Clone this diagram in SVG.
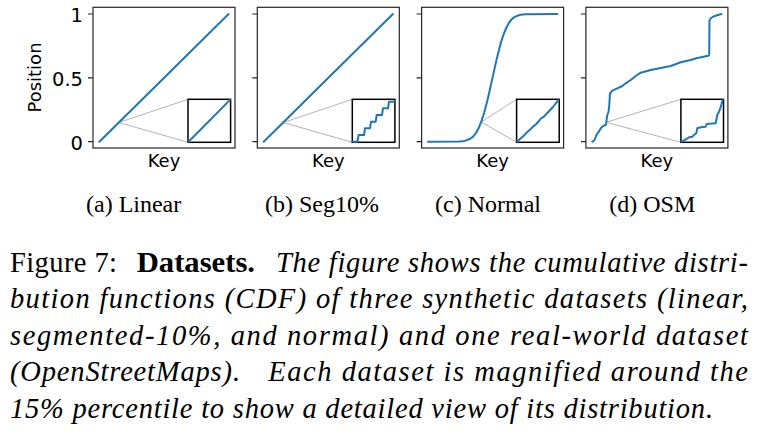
<svg xmlns="http://www.w3.org/2000/svg" width="760" height="431" viewBox="0 0 760 431">
<style>
.ax{fill:none;stroke:#262626;stroke-width:1.2}
.tick{stroke:#262626;stroke-width:1.2}
.curve{fill:none;stroke:#1f77b4;stroke-width:2;stroke-linejoin:round;stroke-linecap:round}
.zl{stroke:#b4b4b4;stroke-width:1;fill:none}
.inset{fill:#fff;stroke:#000;stroke-width:1.5}
.tl{font-family:"DejaVu Sans",sans-serif;font-size:19.5px;fill:#000;text-anchor:end}
.lab{font-family:"DejaVu Sans",sans-serif;font-size:18px;fill:#000;text-anchor:middle}
.sub{font-family:"Liberation Serif",serif;font-size:24px;fill:#000}
.cap{font-family:"Liberation Serif",serif;font-size:28.5px;fill:#000}
.it{font-style:italic}
.bd{font-weight:bold}
</style>
<rect width="760" height="431" fill="#fff"/>

<g id="panel-a">
  <rect class="ax" x="93" y="7.3" width="142" height="140.7"/>
  <path class="tick" d="M88,14H93M88,77.85H93M88,141.7H93"/>
  <text class="tl" x="83" y="22">1</text>
  <text class="tl" x="83" y="85.85">0.5</text>
  <text class="tl" x="83" y="149.7">0</text>
  <text class="lab" transform="translate(41,77.5) rotate(-90)">Position</text>
  <text class="lab" x="164" y="166.5">Key</text>
  <path class="zl" d="M188,99.3L118.8,122.5L188,142.3"/>
  <path class="curve" d="M99.4,141.7L228.6,14"/>
  <rect class="inset" x="188" y="99.3" width="42.6" height="43"/>
  <path class="curve" d="M188.6,141.7L230,99.9"/>
  <text class="sub" x="86" y="212.3">(a) Linear</text>
</g>

<g id="panel-b">
  <rect class="ax" x="257.3" y="7.3" width="142" height="140.7"/>
  <path class="tick" d="M252.3,14H257.3M252.3,77.85H257.3M252.3,141.7H257.3"/>
  <text class="lab" x="328.3" y="166.5">Key</text>
  <path class="zl" d="M352.3,99.3L283.3,122.5L352.3,142.3"/>
  <path class="curve" d="M263.7,141.7L392.9,14"/>
  <rect class="inset" x="352.3" y="99.3" width="42.6" height="43"/>
  <path class="curve" d="M353,141.7L357.3,141.7L358.7,135L364,135L365,128.3L370,128.3L371,121.7L375.7,121.7L376.7,115L382,115L383,108.3L388,108.3L389,101.7L394.2,101.7"/>
  <text class="sub" x="265" y="212.3">(b) Seg10%</text>
</g>

<g id="panel-c">
  <rect class="ax" x="421.6" y="7.3" width="142" height="140.7"/>
  <path class="tick" d="M416.6,14H421.6M416.6,77.85H421.6M416.6,141.7H421.6"/>
  <text class="lab" x="492.6" y="166.5">Key</text>
  <path class="zl" d="M516.6,99.3L481.2,122L516.6,142.3"/>
  <path class="curve" d="M428,141.7L459.2,141.5L464.75,140.9L470.3,138.8L473.1,136.6L475.85,133.2L478.6,128.2L481.4,121.4L484.2,112.8L486.95,102.3L489.7,90.45L492.5,77.85L495.3,65.25L498.05,53.4L500.8,42.9L503.6,34.3L506.4,27.5L509.15,22.5L511.9,19.1L514.7,16.9L520.25,14.8L525.8,14.2L557.3,14"/>
  <rect class="inset" x="516.6" y="99.3" width="42.6" height="43"/>
  <path class="curve" d="M517.2,141.7L521,138L524,135.6L527,132.2L530,129.8L533,126.6L536,124.2L539,121L541,118.3L544,116.6L547,113.2L550,110.2L553,107L556,103.2L558.6,100"/>
  <text class="sub" x="435" y="212.3">(c) Normal</text>
</g>

<g id="panel-d">
  <rect class="ax" x="585.9" y="7.3" width="142" height="140.7"/>
  <path class="tick" d="M580.9,14H585.9M580.9,77.85H585.9M580.9,141.7H585.9"/>
  <text class="lab" x="656.9" y="166.5">Key</text>
  <path class="zl" d="M680.9,99.3L606.2,122.3L680.9,142.3"/>
  <path class="curve" d="M592.3,141.7L594.5,140L596,136L597.5,133.3L599,131.5L600.7,128.5L602.5,126.5L604.5,125.3L606,124.5L606.3,121.7L607.3,115L608.5,112L609.3,105L610,93.3L612.3,90.7L617.3,88.3L622.3,86L625.7,83.3L630.7,80L635.7,76L640.7,72.7L650.7,70L660.7,68L670.7,66L680.7,62.3L690.7,60L697.3,58L708.3,55.7L709.2,55L709.5,20.5L711,18L714,16.3L718,15L721.4,14"/>
  <rect class="inset" x="680.9" y="99.3" width="42.6" height="43"/>
  <path class="curve" d="M681.7,141.7L685.7,139.3L689,137.3L692.3,136.7L694,135L696.3,133.3L697.3,128.3L700.7,127.3L705.7,126.7L706.7,124L715.7,123.3L717.3,115L719,111.7L720.7,107.3L722.6,100"/>
  <text class="sub" x="609.3" y="212.3">(d) OSM</text>
</g>

<g id="caption">
  <text class="cap" x="10" y="271.5" textLength="107" lengthAdjust="spacing">Figure 7:</text>
  <text class="cap bd" x="136.7" y="271.5" textLength="118.3" lengthAdjust="spacingAndGlyphs">Datasets.</text>
  <text class="cap it" x="276" y="271.5" textLength="472" lengthAdjust="spacing">The figure shows the cumulative distri-</text>
  <text class="cap it" x="10" y="308" textLength="738" lengthAdjust="spacing">bution functions (CDF) of three synthetic datasets (linear,</text>
  <text class="cap it" x="10" y="344.5" textLength="738" lengthAdjust="spacing">segmented-10%, and normal) and one real-world dataset</text>
  <text class="cap it" x="10" y="381" textLength="230" lengthAdjust="spacing">(OpenStreetMaps).</text>
  <text class="cap it" x="268.3" y="381" textLength="479.7" lengthAdjust="spacing">Each dataset is magnified around the</text>
  <text class="cap it" x="10" y="417.5" textLength="703" lengthAdjust="spacing">15% percentile to show a detailed view of its distribution.</text>
</g>
</svg>
